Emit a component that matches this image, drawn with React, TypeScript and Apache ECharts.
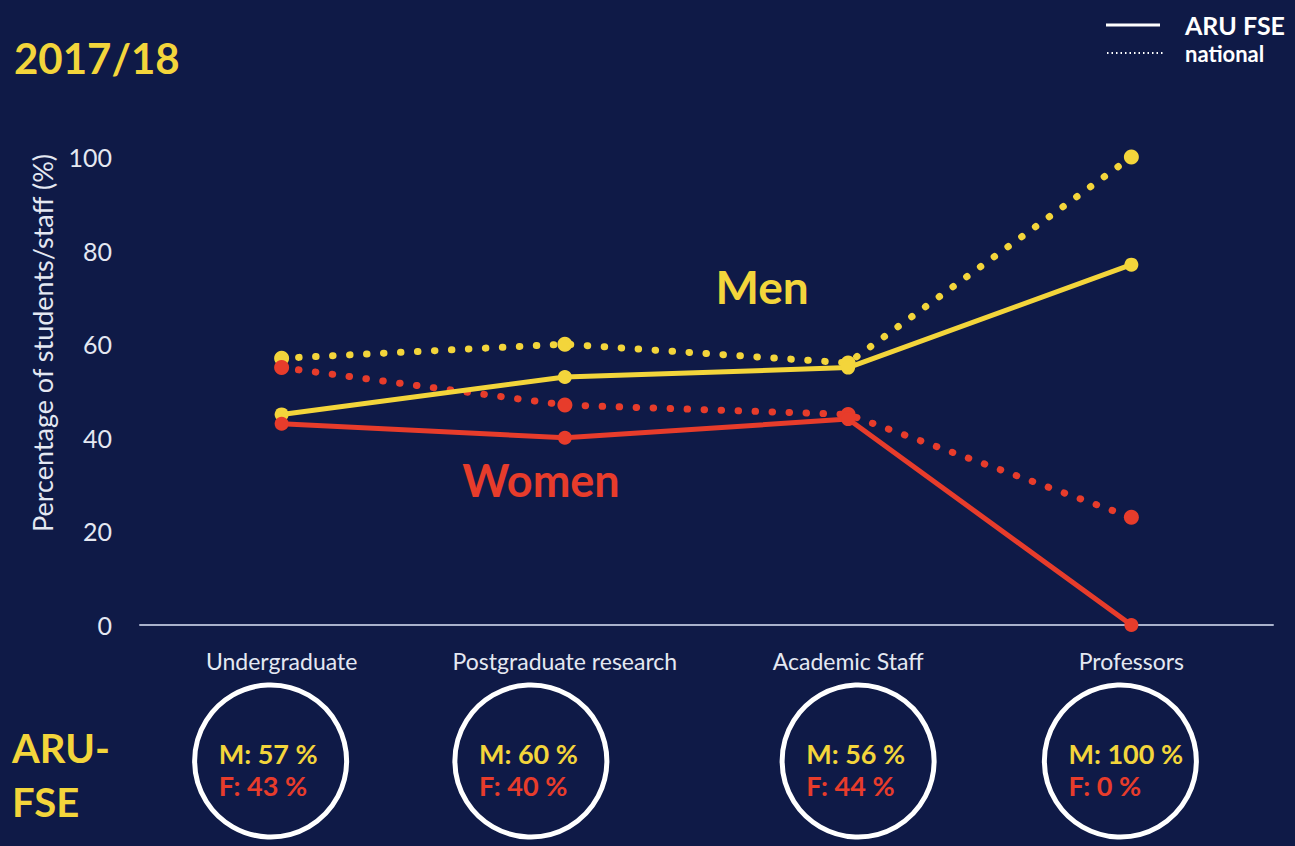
import React, { useEffect, useRef } from "react";
import * as echarts from "echarts";

const categories = ["Undergraduate", "Postgraduate research", "Academic Staff", "Professors"];
const aruMen = [45, 53, 55, 77];
const aruWomen = [43, 40, 44, 0];
const nationalMen = [57, 60, 56, 100];
const nationalWomen = [55, 47, 45, 23];
const circleMen = ["57", "60", "56", "100"];
const circleWomen = ["43", "40", "44", "0"];
const yMin = 0;
const yMax = 100;
const yStep = 20;

const BG = "#0f1a47";
const YELLOW = "#f3d53b";
const RED = "#e73c2b";
const TEXT = "#e4e8f2";
const FONT = "Lato, 'Open Sans', sans-serif";

// layout-only offsets of the summary circles relative to each category
const circleDx = [-11, -34, 10, -11];

export default function App() {
  const ref = useRef<HTMLDivElement>(null);

  useEffect(() => {
    if (!ref.current) return;
    const chart = echarts.init(ref.current, null, { renderer: "svg" });

    const solid = (name: string, data: number[], color: string) => ({
      name,
      type: "line",
      data,
      symbol: "circle",
      symbolSize: 14,
      itemStyle: { color },
      lineStyle: { color, width: 5 },
      z: 3,
    });
    const dotted = (name: string, data: number[], color: string) => ({
      name,
      type: "line",
      data,
      symbol: "circle",
      symbolSize: 15,
      itemStyle: { color },
      lineStyle: { color, width: 7, type: [0.5, 16.5], cap: "round" },
      z: 2,
    });

    chart.setOption({
      animation: false,
      backgroundColor: BG,
      textStyle: { fontFamily: FONT },
      grid: { left: 140, right: 22, top: 157, bottom: 221, containLabel: false },
      xAxis: {
        type: "category",
        data: categories,
        boundaryGap: true,
        axisLine: { show: true, lineStyle: { color: "#a9b2cc", width: 2 } },
        axisTick: { show: false },
        axisLabel: { color: TEXT, fontSize: 23, margin: 24, fontFamily: FONT, interval: 0, hideOverlap: false },
      },
      yAxis: {
        type: "value",
        min: yMin,
        max: yMax,
        interval: yStep,
        axisLine: { show: false },
        axisTick: { show: false },
        splitLine: { show: false },
        axisLabel: { color: TEXT, fontSize: 25, margin: 28, fontFamily: FONT },
      },
      series: [
        dotted("national men", nationalMen, YELLOW),
        dotted("national women", nationalWomen, RED),
        solid("ARU FSE men", aruMen, YELLOW),
        solid("ARU FSE women", aruWomen, RED),
      ],
    });

    const graphics: any[] = [
      {
        type: "text",
        left: 14,
        top: 37,
        style: { text: "2017/18", fill: YELLOW, font: `bold 42px ${FONT}` },
      },
      {
        type: "text",
        x: 42,
        y: 343,
        rotation: Math.PI / 2,
        style: {
          text: "Percentage of students/staff (%)",
          fill: TEXT,
          font: `27px ${FONT}`,
          textAlign: "center",
          textVerticalAlign: "middle",
        },
      },
      {
        type: "text",
        x: 762,
        y: 286,
        style: { text: "Men", fill: YELLOW, font: `bold 46px ${FONT}`, textAlign: "center", textVerticalAlign: "middle" },
      },
      {
        type: "text",
        x: 541,
        y: 480,
        style: { text: "Women", fill: RED, font: `bold 45px ${FONT}`, textAlign: "center", textVerticalAlign: "middle" },
      },
      {
        type: "line",
        shape: { x1: 1106, y1: 25, x2: 1160, y2: 25 },
        style: { stroke: "#ffffff", lineWidth: 3 },
      },
      {
        type: "text",
        x: 1185,
        y: 25,
        style: { text: "ARU FSE", fill: "#ffffff", font: `bold 25px ${FONT}`, textVerticalAlign: "middle" },
      },
      {
        type: "line",
        shape: { x1: 1107, y1: 53, x2: 1163, y2: 53 },
        style: { stroke: "#ffffff", lineWidth: 2, lineDash: [1.5, 3] },
      },
      {
        type: "text",
        x: 1185,
        y: 53,
        style: { text: "national", fill: "#ffffff", font: `bold 22px ${FONT}`, textVerticalAlign: "middle" },
      },
      {
        type: "text",
        x: 12,
        y: 748,
        style: { text: "ARU-", fill: YELLOW, font: `bold 40px ${FONT}`, textVerticalAlign: "middle" },
      },
      {
        type: "text",
        x: 12,
        y: 802,
        style: { text: "FSE", fill: YELLOW, font: `bold 40px ${FONT}`, textVerticalAlign: "middle" },
      },
    ];

    categories.forEach((c, i) => {
      const px = chart.convertToPixel({ xAxisIndex: 0 }, c) as number;
      const cx = px + circleDx[i];
      const cy = 761;
      graphics.push({
        type: "circle",
        shape: { cx, cy, r: 76 },
        style: { fill: "none", stroke: "#ffffff", lineWidth: 5 },
      });
      graphics.push({
        type: "text",
        x: cx - 52,
        y: 753,
        style: {
          text: `M: ${circleMen[i]} %`,
          fill: YELLOW,
          font: `bold 27px ${FONT}`,
          textAlign: "left",
          textVerticalAlign: "middle",
        },
      });
      graphics.push({
        type: "text",
        x: cx - 52,
        y: 785,
        style: {
          text: `F: ${circleWomen[i]} %`,
          fill: RED,
          font: `bold 27px ${FONT}`,
          textAlign: "left",
          textVerticalAlign: "middle",
        },
      });
    });

    chart.setOption({ graphic: graphics });

    return () => chart.dispose();
  }, []);

  return <div ref={ref} style={{ width: 1295, height: 846, position: "absolute", left: 0, top: 0 }} />;
}
